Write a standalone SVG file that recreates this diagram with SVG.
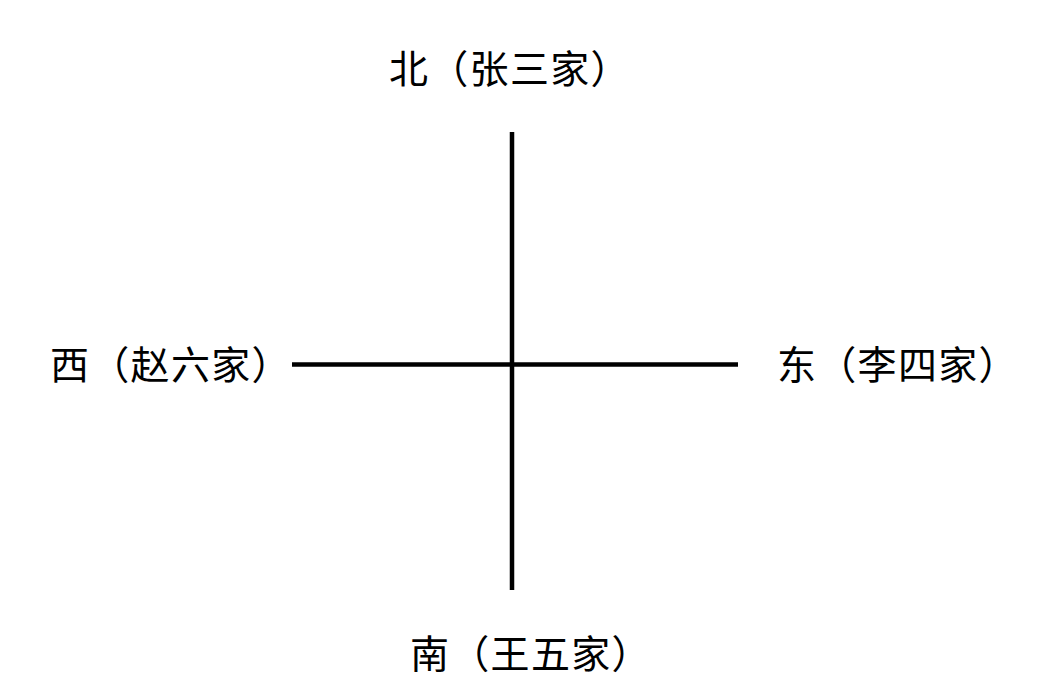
<svg xmlns="http://www.w3.org/2000/svg" width="1041" height="688" viewBox="0 0 1041 688">
<style>
.lbl{font-family:"Noto Sans CJK SC","Noto Sans",sans-serif;font-size:39px;letter-spacing:1.3px;fill:#000}
.ln{stroke:#000;stroke-width:4.5;fill:none}
</style>
<rect width="1041" height="688" fill="#fff"/>
<g id="connectors">
<line class="ln" x1="512" y1="132" x2="512" y2="590"/>
<line class="ln" x1="292" y1="364.5" x2="738" y2="364.5"/>
</g>
<g id="north"><text class="lbl" x="389" y="83">北（张三家）</text></g>
<g id="west"><text class="lbl" x="50" y="379">西（赵六家）</text></g>
<g id="east"><text class="lbl" x="777" y="379">东（李四家）</text></g>
<g id="south"><text class="lbl" x="410" y="668">南（王五家）</text></g>
</svg>
